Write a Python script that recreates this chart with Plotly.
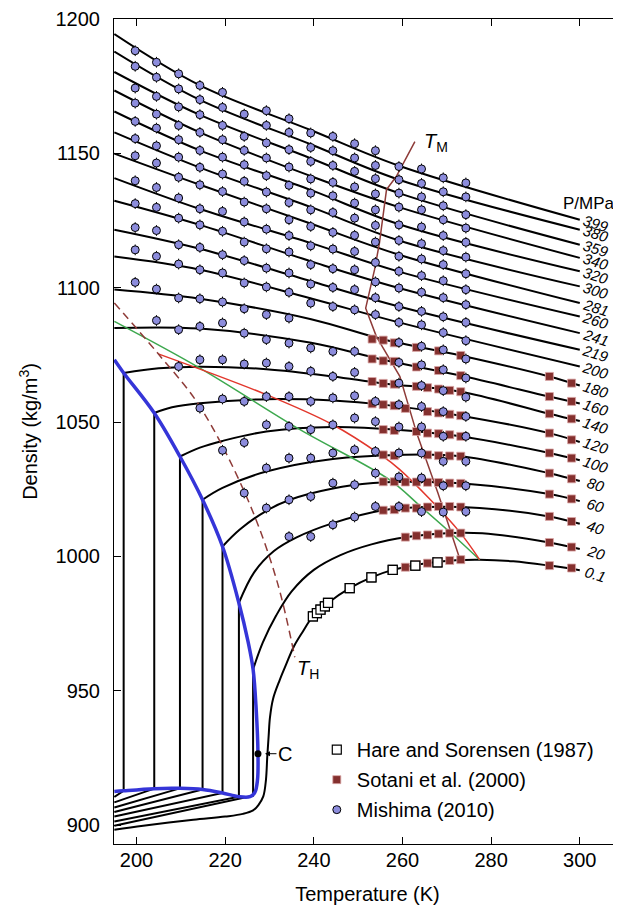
import plotly.graph_objects as go

# ---------------- axes ----------------
x_tick_vals = [200, 220, 240, 260, 280, 300]
y_tick_vals = [900, 950, 1000, 1050, 1100, 1150, 1200]

# ---------------- isobars reaching the left edge (high pressure) ----------------
hp_T = [195, 214.3, 239.4, 259.2, 300]
rho_399 = [1194.4, 1175.3, 1158.6, 1145.4, 1125.3]
rho_380 = [1187.9, 1169.9, 1153.3, 1140.2, 1121.6]
rho_359 = [1180.3, 1164.3, 1148.1, 1135.2, 1116.0]
rho_340 = [1173.4, 1157.8, 1141.5, 1130.0, 1111.1]
rho_320 = [1165.6, 1151.1, 1136.3, 1123.6, 1106.1]
rho_300 = [1157.8, 1144.7, 1130.0, 1117.6, 1100.5]
rho_281 = [1149.9, 1138.3, 1123.8, 1112.3, 1094.3]
rho_260 = [1140.8, 1129.3, 1116.6, 1106.0, 1089.3]
rho_241 = [1132.4, 1123.4, 1109.8, 1099.9, 1083.1]
rho_219 = [1121.6, 1114.5, 1102.4, 1093.0, 1076.9]
rho_200 = [1111.6, 1106.7, 1096.0, 1087.1, 1070.7]

mp_T = [195, 214.3, 239.4, 255.6, 273.1, 293.1, 300]
rho_180 = [1099.3, 1095.9, 1088.3, 1080.8, 1074.8, 1067.0, 1063.6]
rho_160 = [1085.0, 1084.8, 1079.5, 1073.2, 1067.3, 1059.5, 1056.9]

# ---------------- isobars with a liquid-liquid transition: high-density branch ----------------
p140_T = [197.1, 205, 214.3, 229.3, 244.3, 255.6, 273.1, 293.1, 300]
p140_rho = [1068.3, 1070.0, 1070.6, 1069.7, 1067.0, 1064.4, 1061.3, 1053.1, 1050.4]
p120_T = [204.0, 208, 214.3, 229.3, 244.3, 255.6, 273.1, 293.1, 300]
p120_rho = [1053.4, 1055.5, 1057.0, 1058.5, 1058.0, 1056.5, 1052.4, 1045.9, 1042.6]
p100_T = [209.8, 214.3, 219.4, 229.3, 244.3, 259.4, 273.1, 293.1, 300]
p100_rho = [1037.2, 1040.5, 1043.0, 1046.5, 1048.2, 1047.1, 1044.7, 1038.5, 1035.8]
p80_T = [214.9, 219.4, 229.3, 244.3, 259.4, 273.1, 293.1, 300]
p80_rho = [1021.1, 1025.5, 1031.6, 1036.3, 1037.8, 1037.3, 1031.0, 1028.1]
p60_T = [219.4, 223.3, 229.3, 234.6, 244.3, 253.4, 263, 273.1, 293.1, 300]
p60_rho = [1003.7, 1010.0, 1017.0, 1021.1, 1025.3, 1027.3, 1027.8, 1027.2, 1023.2, 1020.6]
p40_T = [223.1, 226.5, 231, 236, 244.3, 255.6, 265.6, 277.4, 293.1, 300]
p40_rho = [982.7, 994.0, 1002.0, 1007.0, 1012.4, 1017.2, 1018.4, 1018.0, 1014.9, 1012.2]
p20_T = [226.3, 228.5, 231.5, 235, 240, 246, 253, 261, 270.7, 278, 293.1, 300]
p20_rho = [958, 968, 978, 987, 995, 1000.5, 1004.5, 1007.2, 1008.7, 1008.6, 1005.2, 1002.8]
p01_T = [195, 201.5, 212.8, 220, 224.0, 226.3, 227.5, 228.6, 229.2, 229.5, 229.8, 230.1,
         230.8, 232.3, 233.8, 235.5, 237.5, 239.8, 243.2, 248.1, 253.0, 257.8, 265.4, 272,
         277.4, 285, 293.1, 300]
p01_rho = [898.3, 899.8, 902.0, 903.2, 904.2, 905.5, 907.5, 910.7, 916.9, 925.6, 933.0, 940.0,
           947.0, 954.0, 960.0, 966.5, 972.0, 977.7, 982.7, 988.2, 992.2, 995.0, 997.5, 998.6,
           998.8, 998.2, 996.6, 994.9]

# ---------------- tie lines and low-density branches ----------------
tie_T = [197.1, 204.0, 209.8, 214.9, 219.4, 223.1, 226.3]
tie_rho_low = [912.8, 913.6, 913.7, 913.3, 912.0, 910.6, 911.0]
tie_rho_high = [1068.3, 1053.4, 1037.2, 1021.1, 1003.7, 982.7, 958.0]
low_edge_T = 195
low_edge_rho = [910.5, 908.5, 906.6, 904.9, 903.2, 901.4, 899.8]

# ---------------- coexistence curve (blue) ----------------
coex_T = [195.0, 197.1, 204.0, 209.8, 214.9, 219.4, 223.1, 225.2, 226.3, 227.0, 227.4,
          227.3, 226.7, 225.6, 223.1, 219.4, 214.9, 209.8, 204.0, 197.1, 195.0]
coex_rho = [1073.2, 1068.3, 1053.4, 1037.2, 1021.1, 1003.7, 982.7, 968.0, 958.0, 943.0, 926.6,
            917.0, 912.2, 910.6, 910.6, 912.0, 913.3, 913.7, 913.6, 912.8, 912.5]
crit_T = [227.4]
crit_rho = [926.6]

# ---------------- special lines ----------------
tmd_T = [204.9, 229.3, 244.3, 254.9, 259.4, 272.5, 277.4]
tmd_rho = [1075.4, 1060.2, 1049.0, 1038.0, 1032.3, 1009.9, 998.8]
green_T = [195, 214.3, 236.9, 257.1, 264.1, 271.4, 277.4]
green_rho = [1087.5, 1070.1, 1047.2, 1028.5, 1018.6, 1008.0, 998.8]
th_T = [195, 204.9, 214.3, 224.8, 231.6, 235.7]
th_rho = [1094.3, 1075.4, 1055.8, 1022.3, 991.3, 962.5]
tm_T = [262.8, 258.6, 256.4, 254.8, 253.7, 251.7, 254.1, 259.4, 263.2, 268.0, 273.0]
tm_rho = [1154.4, 1141.4, 1136.5, 1116.6, 1106.7, 1092.4, 1081.9, 1067.0, 1045.9, 1023.6, 998.8]

# ---------------- Hare and Sorensen (1987) ----------------
hare_T = [239.8, 240.7, 241.5, 242.5, 243.2, 248.1, 253.0, 257.8, 262.9, 267.9]
hare_rho = [977.7, 978.9, 980.2, 981.4, 982.7, 988.2, 992.2, 995.0, 996.6, 997.8]

# ---------------- Sotani et al. (2000) ----------------
s180_T = [253.15, 255.65, 258.15, 263.15, 268.15, 273.15, 293.15, 298.15]
s180_rho = [1080.9, 1080.5, 1079.5, 1077.8, 1076.5, 1074.8, 1067.0, 1064.5]
s160_T = [253.15, 255.65, 258.15, 263.15, 268.15, 273.15, 293.15, 298.15]
s160_rho = [1073.5, 1072.8, 1072.6, 1070.5, 1069.2, 1067.3, 1059.5, 1057.7]
s140_T = [253.15, 255.65, 258.15, 263.15, 265.65, 268.15, 270.65, 273.15, 293.15, 298.15]
s140_rho = [1065.1, 1064.4, 1064.1, 1063.3, 1062.8, 1062.3, 1061.8, 1061.3, 1053.1, 1051.2]
s120_T = [253.15, 255.65, 258.15, 260.65, 265.65, 268.15, 270.65, 273.15, 293.15, 298.15]
s120_rho = [1056.8, 1056.5, 1056.1, 1055.1, 1053.9, 1053.4, 1052.9, 1052.4, 1045.9, 1043.4]
s100_T = [255.65, 258.15, 263.15, 265.65, 268.15, 270.65, 273.15, 293.15, 298.15]
s100_rho = [1047.2, 1046.9, 1046.5, 1045.9, 1045.7, 1045.3, 1044.7, 1038.5, 1036.6]
s80_T = [255.65, 258.15, 265.65, 268.15, 270.65, 273.15, 293.15, 298.15]
s80_rho = [1037.8, 1037.5, 1037.8, 1037.5, 1037.4, 1037.3, 1031.0, 1028.9]
s60_T = [255.65, 258.15, 260.65, 263.15, 265.65, 268.15, 270.65, 273.15, 293.15, 298.15]
s60_rho = [1027.8, 1027.8, 1027.7, 1027.7, 1027.6, 1027.5, 1027.3, 1027.2, 1023.2, 1021.4]
s40_T = [255.65, 258.15, 260.65, 263.15, 265.65, 268.15, 270.65, 273.15, 293.15, 298.15]
s40_rho = [1017.2, 1017.4, 1018.0, 1018.0, 1018.4, 1018.6, 1018.6, 1018.4, 1014.9, 1013.0]
s20_T = [260.65, 263.15, 265.65, 268.15, 270.65, 273.15, 293.15, 298.15]
s20_rho = [1007.2, 1007.7, 1008.0, 1008.4, 1008.7, 1008.7, 1005.2, 1003.5]
s01_T = [260.65, 263.15, 265.65, 268.15, 270.65, 273.15, 293.15, 298.15]
s01_rho = [996.0, 996.9, 997.5, 998.1, 998.5, 998.8, 996.6, 995.7]

# ---------------- Mishima (2010), one list per temperature ----------------
mishima_T = [199.7, 204.5, 209.5, 214.3, 219.4, 224.3, 229.3, 234.4,
             239.3, 244.3, 249.2, 253.9, 259.2, 264.3, 269.2, 274.3]
m01 = [1188.2, 1182.4, 1174.3, 1168.7, 1161.9, 1155.5, 1149.1, 1139.8, 1131.3, 1122.4, 1114.1, 1102.0]
m02 = [1183.9, 1178.3, 1171.2, 1164.6, 1159.4, 1152.8, 1146.4, 1137.3, 1129.9, 1121.3, 1111.7, 1099.5, 1087.8]
m03 = [1179.6, 1174.0, 1167.3, 1160.4, 1155.1, 1148.6, 1141.1, 1133.4, 1125.9, 1116.0, 1108.8, 1096.2, 1084.4, 1070.7]
m04 = [1175.3, 1170.0, 1164.4, 1157.8, 1151.1, 1144.8, 1138.3, 1129.4, 1123.4, 1115.0, 1106.7, 1095.9, 1085.6, 1073.2, 1055.2]
m05 = [1172.7, 1167.1, 1160.4, 1155.1, 1148.6, 1142.3, 1135.8, 1128.4, 1121.0, 1112.3, 1105.5, 1094.7, 1086.9, 1073.2, 1058.6, 1039.5]
m06 = [1164.6, 1156.3, 1151.1, 1145.8, 1139.6, 1131.9, 1124.5, 1117.0, 1110.1, 1101.8, 1092.2, 1083.1, 1071.6, 1057.7, 1042.4, 1023.6]
m07 = [1165.9, 1160.4, 1153.9, 1148.3, 1141.7, 1135.6, 1129.4, 1121.8, 1114.5, 1107.3, 1100.3, 1090.0, 1080.7, 1072.0, 1059.5, 1049.0, 1032.9, 1018.0]
m08 = [1162.9, 1157.8, 1151.4, 1144.9, 1138.1, 1131.7, 1125.3, 1119.4, 1113.3, 1105.5, 1098.3, 1088.7, 1079.4, 1070.7, 1059.5, 1048.4, 1036.6, 1021.1, 1007.4]
m09 = [1157.6, 1152.2, 1147.0, 1140.5, 1135.2, 1129.0, 1122.8, 1115.6, 1108.6, 1101.4, 1094.3, 1077.6, 1068.9, 1057.7, 1047.2, 1036.6, 1022.3, 1007.4]
m10 = [1156.3, 1151.0, 1145.5, 1139.2, 1134.2, 1128.0, 1120.6, 1114.4, 1107.1, 1100.1, 1093.0, 1076.3, 1067.0, 1059.0, 1049.0, 1038.5, 1027.3, 1011.8]
m11 = [1153.6, 1148.3, 1143.3, 1137.5, 1131.5, 1125.9, 1119.5, 1113.5, 1106.7, 1099.3, 1091.8, 1076.3, 1068.5, 1059.8, 1051.5, 1039.7, 1026.7, 1014.7]
m12 = [1151.0, 1145.5, 1140.6, 1134.9, 1129.0, 1123.2, 1117.0, 1109.4, 1102.2, 1096.3, 1090.0, 1057.7, 1050.2, 1039.1, 1031.0, 1018.6]
m13 = [1145.1, 1140.2, 1135.2, 1130.0, 1123.4, 1117.6, 1111.7, 1106.1, 1099.9, 1093.0, 1087.1, 1079.6, 1072.2, 1064.5, 1056.5, 1048.2, 1038.5, 1029.6, 1018.6]
m14 = [1144.2, 1138.8, 1133.8, 1129.0, 1122.6, 1116.4, 1110.7, 1104.5, 1098.3, 1091.2, 1086.2, 1078.2, 1071.3, 1063.6, 1055.8, 1048.2, 1038.5, 1029.2, 1016.7]
m15 = [1140.9, 1135.7, 1130.5, 1125.3, 1119.4, 1113.8, 1108.6, 1102.6, 1096.3, 1089.2, 1083.3, 1076.9, 1069.5, 1061.7, 1053.9, 1044.7, 1035.4, 1026.3, 1016.5]
m16 = [1139.0, 1133.8, 1127.2, 1122.2, 1116.9, 1111.4, 1105.2, 1099.3, 1093.7, 1087.1, 1080.3, 1073.5, 1066.4, 1059.3, 1052.1, 1044.7, 1035.4, 1026.3, 1016.7]
mishima_err = 2.0

iso_labels = ["399", "380", "359", "340", "320", "300", "281", "260", "241", "219", "200",
              "180", "160", "140", "120", "100", "80", "60", "40", "20", "0.1"]

# ======================================================================
FONT = "Liberation Sans, Arial, Helvetica, sans-serif"
BLACK = "black"
BROWN = "#8e3b38"
fig = go.Figure()

def add_line(x, y, color=BLACK, width=2, shape="spline", dash=None):
    fig.add_trace(go.Scatter(x=x, y=y, mode="lines",
                             line=dict(color=color, width=width, shape=shape, dash=dash),
                             showlegend=False, hoverinfo="skip"))

iso_curves = []
for rho in [rho_399, rho_380, rho_359, rho_340, rho_320, rho_300, rho_281, rho_260,
            rho_241, rho_219, rho_200]:
    iso_curves.append((hp_T, rho))
iso_curves.append((mp_T, rho_180))
iso_curves.append((mp_T, rho_160))
low_branches = [(p140_T, p140_rho), (p120_T, p120_rho), (p100_T, p100_rho), (p80_T, p80_rho),
                (p60_T, p60_rho), (p40_T, p40_rho), (p20_T, p20_rho)]
iso_curves += low_branches
iso_curves.append((p01_T, p01_rho))

# low-density branches + tie lines
for i in range(len(tie_T)):
    add_line([low_edge_T, tie_T[i], tie_T[i]], [low_edge_rho[i], tie_rho_low[i], tie_rho_high[i]],
             width=2, shape="linear")

# isobars
for T, rho in iso_curves:
    add_line(T, rho, width=2)

# special lines
add_line(green_T, green_rho, color="#3da84e", width=1.5)
add_line(tmd_T, tmd_rho, color="#e2372c", width=1.5)
add_line(th_T, th_rho, color=BROWN, width=1.5, dash="8px,5px")
add_line(tm_T, tm_rho, color=BROWN, width=1.5, shape="linear")

# coexistence curve
add_line(coex_T, coex_rho, color="#3535d8", width=3.5)

# critical point
fig.add_trace(go.Scatter(x=crit_T, y=crit_rho, mode="markers",
                         marker=dict(color=BLACK, size=7), showlegend=False, hoverinfo="skip"))

# Mishima
m_cols = [m01, m02, m03, m04, m05, m06, m07, m08, m09, m10, m11, m12, m13, m14, m15, m16]
mx, my = [], []
for T, col in zip(mishima_T, m_cols):
    mx += [T] * len(col)
    my += col
fig.add_trace(go.Scatter(x=mx, y=my, mode="markers",
                         marker=dict(size=1, color="rgba(0,0,0,0)"),
                         error_y=dict(type="constant", value=mishima_err, color=BLACK,
                                      thickness=1, width=0),
                         showlegend=False, hoverinfo="skip"))

# Sotani
sx, sy = [], []
for T, rho in [(s180_T, s180_rho), (s160_T, s160_rho), (s140_T, s140_rho), (s120_T, s120_rho),
               (s100_T, s100_rho), (s80_T, s80_rho), (s60_T, s60_rho), (s40_T, s40_rho),
               (s20_T, s20_rho), (s01_T, s01_rho)]:
    sx += T
    sy += rho

fig.add_trace(go.Scatter(x=hare_T, y=hare_rho, mode="markers", name="Hare and Sorensen (1987)",
                         marker=dict(symbol="square", size=9, color="white",
                                     line=dict(color=BLACK, width=1.2)),
                         legendgroup="a", hoverinfo="skip"))
fig.add_trace(go.Scatter(x=sx, y=sy, mode="markers", name="Sotani et al. (2000)",
                         marker=dict(symbol="square", size=8, color="#84302e",
                                     line=dict(color="#d9a6a6", width=0.8)),
                         legendgroup="b", hoverinfo="skip"))
fig.add_trace(go.Scatter(x=mx, y=my, mode="markers", name="Mishima (2010)",
                         marker=dict(symbol="circle", size=8, color="#8c8cdc",
                                     line=dict(color=BLACK, width=1)),
                         legendgroup="c", hoverinfo="skip"))
# Hare drawn on top again (over Sotani)
fig.add_trace(go.Scatter(x=hare_T, y=hare_rho, mode="markers", showlegend=False,
                         marker=dict(symbol="square", size=9, color="white",
                                     line=dict(color=BLACK, width=1.2)),
                         hoverinfo="skip"))

# isobar labels
for (T, rho), lab in zip(iso_curves, iso_labels):
    fig.add_annotation(x=T[-1], y=rho[-1], text="<i>" + lab + "</i>", showarrow=False,
                       xanchor="center", yanchor="middle", xshift=16, yshift=-4,
                       textangle=17, font=dict(size=15, family=FONT, color=BLACK))

fig.add_annotation(x=302.0, y=1131.5, text="P/MPa", showarrow=False,
                   font=dict(size=17, family=FONT, color=BLACK))
fig.add_annotation(x=267.5, y=1154.0, text="<i>T</i><sub>M</sub>", showarrow=False,
                   font=dict(size=20, family=FONT, color=BLACK))
fig.add_annotation(x=238.6, y=957.8, text="<i>T</i><sub>H</sub>", showarrow=False,
                   font=dict(size=20, family=FONT, color=BLACK))
fig.add_annotation(x=crit_T[0], y=crit_rho[0], text="C", showarrow=True, ax=27, ay=0,
                   arrowhead=2, arrowsize=1, arrowwidth=1, standoff=7, arrowcolor=BLACK,
                   font=dict(size=20, family=FONT, color=BLACK))

axis_common = dict(showline=True, linecolor=BLACK, linewidth=1, mirror="ticks",
                   ticks="inside", ticklen=7, tickwidth=1, tickcolor=BLACK,
                   showgrid=False, zeroline=False,
                   tickfont=dict(size=20, family=FONT, color=BLACK))
fig.update_xaxes(range=[194.92, 309.3], tickvals=x_tick_vals,
                 title=dict(text="Temperature (K)", font=dict(size=20, family=FONT, color=BLACK),
                            standoff=16),
                 ticklabelstandoff=-2, **axis_common)
fig.update_yaxes(range=[893.0, 1200.0], tickvals=y_tick_vals,
                 title=dict(text="Density (kg/m<sup>3</sup>)",
                            font=dict(size=20, family=FONT, color=BLACK), standoff=12),
                 ticklabelstandoff=9, **axis_common)

# page body adds an 8px offset, so the figure is 8px smaller and margins shifted
fig.update_layout(width=613, height=907, margin=dict(l=106, r=0, t=11, b=71),
                  plot_bgcolor="white", paper_bgcolor="white",
                  font=dict(family=FONT, color=BLACK),
                  legend=dict(x=0.40, y=0.138, xanchor="left", yanchor="top",
                              bgcolor="rgba(0,0,0,0)", tracegroupgap=1,
                              font=dict(size=20, family=FONT, color=BLACK)),
                  showlegend=True)

fig.write_html("out.html")
